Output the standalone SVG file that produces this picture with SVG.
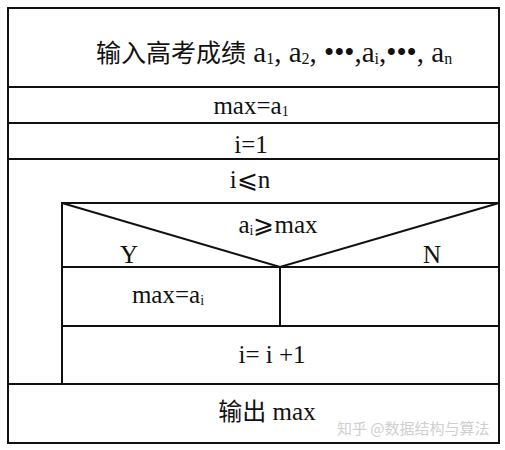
<svg xmlns="http://www.w3.org/2000/svg" width="505" height="450" viewBox="0 0 505 450">
<style>
.b{fill:none;stroke:#111;stroke-width:2}
.t{font-family:"Liberation Serif","Noto Sans CJK SC",serif;font-size:25px;fill:#111;text-anchor:middle}
.c{font-family:"Noto Sans CJK SC",sans-serif;font-size:24px}
.s{font-size:14px}
.w{font-family:"Noto Sans CJK SC",sans-serif;font-size:15px;fill:#cfcfcf}
</style>
<rect width="505" height="450" fill="#fff"/>
<g id="input">
<rect class="b" x="8" y="8" width="491" height="79"/>
<text class="t" x="96" y="62" style="text-anchor:start;font-size:29px"><tspan class="c" style="font-size:25px">输入高考成绩</tspan> a<tspan style="font-size:16px" dy="2">1</tspan><tspan dy="-2">, a</tspan><tspan style="font-size:16px" dy="2">2</tspan><tspan dy="-2">, •••,a</tspan><tspan style="font-size:16px" dy="2">i</tspan><tspan dy="-2">,•••, a</tspan><tspan style="font-size:16px" dy="2">n</tspan></text>
</g>
<g id="init-max">
<rect class="b" x="8" y="87" width="491" height="36"/>
<text class="t" x="251" y="114">max=a<tspan class="s" dy="2">1</tspan></text>
</g>
<g id="init-i">
<rect class="b" x="8" y="123" width="491" height="36"/>
<text class="t" x="251" y="153">i=1</text>
</g>
<g id="loop">
<rect class="b" x="8" y="159" width="491" height="225"/>
<text class="t" x="250" y="188">i⩽n</text>
</g>
<g id="decision">
<rect class="b" x="62" y="203" width="437" height="64"/>
<text class="t" x="278" y="233">a<tspan class="s" dy="2">i</tspan><tspan dy="-2">⩾max</tspan></text>
<text class="t" x="129" y="263">Y</text>
<text class="t" x="432" y="263">N</text>
</g>
<g id="yes-branch">
<rect class="b" x="62" y="267" width="218" height="59"/>
<text class="t" x="168" y="303">max=a<tspan class="s" dy="2">i</tspan></text>
</g>
<g id="no-branch">
<rect class="b" x="280" y="267" width="219" height="59"/>
</g>
<g id="increment">
<rect class="b" x="62" y="326" width="437" height="58"/>
<text class="t" x="272" y="363">i= i +1</text>
</g>
<g id="output">
<rect class="b" x="8" y="384" width="491" height="59"/>
<text class="t" x="267" y="420"><tspan class="c">输出</tspan> max</text>
</g>
<g id="connectors">
<polyline class="b" points="62,203 280,267 499,203"/>
</g>
<text class="w" x="337" y="434">知乎 @数据结构与算法</text>
</svg>
